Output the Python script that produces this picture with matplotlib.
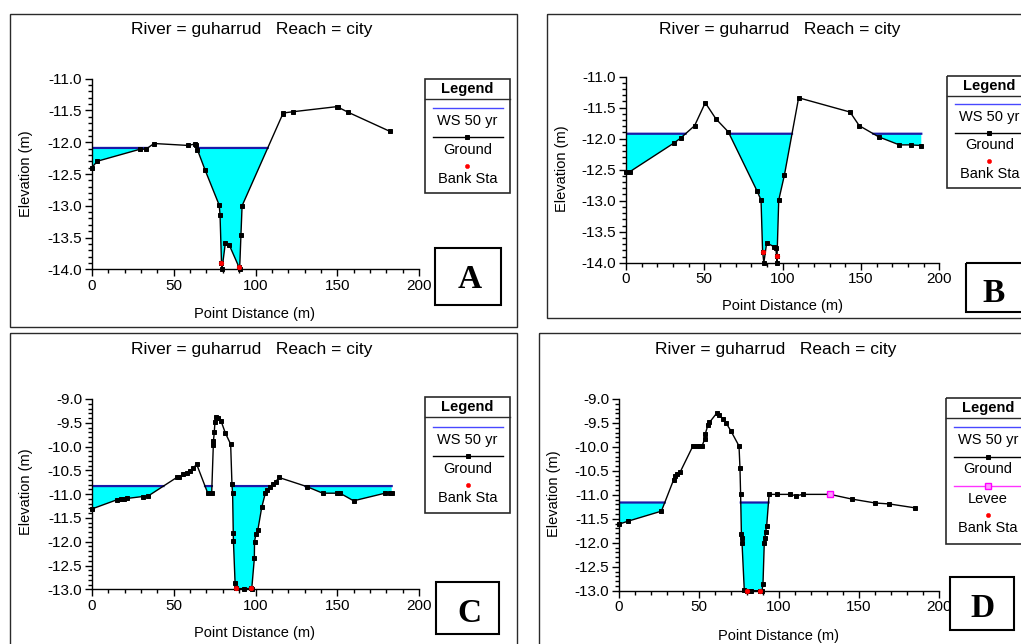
import numpy as np
import matplotlib
matplotlib.use("Agg")
import matplotlib.pyplot as plt
from matplotlib.patches import Rectangle
from matplotlib.ticker import MultipleLocator, FormatStrFormatter

plt.rcParams['font.family'] = ['Liberation Sans', 'DejaVu Sans']
plt.rcParams['axes.unicode_minus'] = False

# ---------------- data ----------------
title_text = "River = guharrud   Reach = city"
x_label = "Point Distance (m)"
y_label = "Elevation (m)"

# Panel A
a_sta = [0, 3.1, 29.4, 33.0, 37.9, 58.5, 62.8, 63.5, 64.5, 69.2, 77.8, 78.3, 79.2, 79.5,
         81.6, 84.0, 89.8, 90.3, 91.1, 91.8, 116.6, 117.0, 122.9, 149.7, 150.6, 156.8, 182.3]
a_elev = [-12.40, -12.30, -12.11, -12.11, -12.02, -12.05, -12.03, -12.04, -12.12, -12.44, -12.99,
          -13.14, -13.90, -14.00, -13.58, -13.62, -13.96, -14.00, -13.46, -13.00, -11.56, -11.54,
          -11.52, -11.44, -11.45, -11.53, -11.83]
a_ws = -12.09
a_bank_sta = [79.2, 89.8]
a_bank_elev = [-13.90, -13.96]

# Panel B
b_sta = [0, 2.6, 30.6, 34.9, 43.8, 50.6, 57.4, 65.3, 83.6, 86.2, 87.2, 88.0, 89.8, 94.3, 95.6,
         96.1, 96.3, 97.5, 101.1, 110.2, 143.0, 148.9, 161.3, 174.5, 181.7, 188.5]
b_elev = [-12.53, -12.53, -12.07, -11.99, -11.79, -11.42, -11.68, -11.89, -12.84, -12.99, -13.82,
          -14.00, -13.68, -13.74, -13.76, -13.89, -14.00, -12.99, -12.59, -11.34, -11.57, -11.79,
          -11.97, -12.10, -12.10, -12.11]
b_ws = -11.92
b_bank_sta = [87.2, 96.1]
b_bank_elev = [-13.82, -13.89]

# Panel C
c_sta = [0, 15.1, 17.5, 19.5, 21.5, 31.0, 34.3, 51.8, 53.5, 55.9, 58.0, 60.0, 62.0, 64.0, 70.8,
         73.2, 74.2, 74.3, 74.8, 75.2, 75.8, 76.9, 78.9, 81.5, 84.8, 85.6, 86.0, 86.4, 86.5, 87.5,
         88.1, 93.0, 97.0, 97.7, 99.3, 99.4, 100.3, 101.4, 103.8, 106.0, 107.2, 109.0, 110.9,
         112.3, 114.4, 131.3, 141.1, 149.7, 151.7, 160.0, 179.2, 182.3, 183.3]
c_elev = [-11.31, -11.12, -11.11, -11.10, -11.09, -11.05, -11.04, -10.65, -10.63, -10.58, -10.55,
          -10.52, -10.45, -10.37, -10.98, -10.98, -9.97, -9.88, -9.69, -9.49, -9.37, -9.40, -9.46,
          -9.71, -9.95, -10.79, -10.98, -11.82, -11.98, -12.86, -12.98, -12.99, -12.98, -12.99,
          -12.35, -12.00, -11.83, -11.76, -11.28, -10.98, -10.92, -10.85, -10.78, -10.74, -10.65,
          -10.84, -10.98, -10.98, -10.98, -11.14, -10.98, -10.97, -10.98]
c_ws = -10.83
c_bank_sta = [88.1, 97.0]
c_bank_elev = [-12.98, -12.98]

# Panel D
d_sta = [0.2, 5.6, 26.5, 34.2, 35.2, 36.3, 38.3, 46.2, 48.8, 50.9, 51.9, 53.5, 54.0, 55.6, 56.5,
         61.2, 62.7, 65.0, 67.1, 70.0, 75.0, 75.6, 76.0, 76.5, 76.6, 76.9, 78.3, 80.0, 82.4, 88.1,
         89.4, 90.0, 90.8, 91.2, 91.6, 92.3, 93.8, 98.8, 107.1, 110.8, 114.8, 131.9, 145.8, 160.2,
         169.0, 184.8]
d_elev = [-11.61, -11.55, -11.34, -10.68, -10.61, -10.56, -10.52, -9.98, -9.98, -9.98, -9.98,
          -9.84, -9.72, -9.54, -9.49, -9.29, -9.33, -9.42, -9.51, -9.67, -9.98, -10.43, -10.98,
          -11.82, -11.91, -12.01, -12.99, -13.00, -13.00, -13.00, -13.00, -12.85, -12.00, -11.90,
          -11.78, -11.65, -10.99, -10.99, -10.99, -11.02, -10.99, -10.99, -11.09, -11.17, -11.19,
          -11.27]
d_ws = -11.16
d_bank_sta = [80.0, 88.1]
d_bank_elev = [-13.00, -13.00]
d_levee_sta = 131.9
d_levee_elev = -10.99

legend_labels_abc = ["WS 50 yr", "Ground", "Bank Sta"]
legend_labels_d = ["WS 50 yr", "Ground", "Levee", "Bank Sta"]
panel_letters = ["A", "B", "C", "D"]

# ---------------- figure ----------------
W, H = 1021, 644
fig = plt.figure(figsize=(W / 100, H / 100), dpi=100)
ov = fig.add_axes([0, 0, 1, 1])
ov.set_xlim(0, W)
ov.set_ylim(H, 0)
ov.axis('off')

WATER = '#00ffff'
WS_COLOR = '#1a1aa8'
EDGE = '#2a2a2a'


def px_axes(x0, x1, ytop, ybot):
    ax = fig.add_axes([x0 / W, 1 - ybot / H, (x1 - x0) / W, (ybot - ytop) / H])
    ax.set_facecolor('none')
    return ax


def draw_panel(ax, sta, elev, ws, bank_sta, bank_elev, ylim, levee=None):
    sta = np.asarray(sta, float)
    elev = np.asarray(elev, float)
    xs = np.linspace(sta.min(), sta.max(), 20000)
    gs = np.interp(xs, sta, elev)
    wet = gs < ws
    if levee is not None:
        wet &= xs < levee[0]
    ax.fill_between(xs, gs, ws, where=wet, color=WATER, lw=0, zorder=1)
    ax.plot(xs, np.where(wet, ws, np.nan), color=WS_COLOR, lw=1.6, zorder=2)
    ax.plot(sta, elev, color='black', lw=1, marker='s', ms=2.3, mew=0.7, zorder=3,
            clip_on=False)
    ax.plot(bank_sta, bank_elev, 'o', color='red', ms=3.4, mew=0.4, ls='none', zorder=4,
            clip_on=False)
    if levee is not None:
        ax.plot([levee[0]], [levee[1]], 's', ms=3.8, mfc='#ff99ff', mec='#ff00ff',
                mew=1, zorder=5, clip_on=False)
    ax.set_xlim(0, 200)
    ax.set_ylim(*ylim)
    for s in ('top', 'right'):
        ax.spines[s].set_visible(False)
    for s in ('left', 'bottom'):
        ax.spines[s].set_linewidth(1)
    ax.xaxis.set_major_locator(MultipleLocator(50))
    ax.xaxis.set_minor_locator(MultipleLocator(10))
    ax.yaxis.set_major_locator(MultipleLocator(0.5))
    ax.yaxis.set_minor_locator(MultipleLocator(0.1))
    ax.yaxis.set_major_formatter(FormatStrFormatter('%.1f'))
    ax.tick_params(which='major', length=5, width=1, direction='out', labelsize=11, pad=2)
    ax.tick_params(which='minor', length=3, width=1, direction='out')


def draw_legend(left, top, height, labels, width=84.7, first=29.0, step=29.0):
    ov.add_patch(Rectangle((left, top), width, height, fill=False, ec=EDGE, lw=1.2))
    ov.plot([left, left + width], [top + 20, top + 20], color=EDGE, lw=1)
    cx = left + width / 2
    ov.text(cx, top + 10, 'Legend', ha='center', va='center', fontsize=10.5,
            fontweight='bold')
    for k, lab in enumerate(labels):
        ly = top + first + step * k
        if lab.startswith('WS'):
            ov.plot([left + 8, left + width - 7], [ly, ly], color='#4848ff', lw=1)
        elif lab == 'Ground':
            ov.plot([left + 8, left + width - 7], [ly, ly], color='black', lw=1)
            ov.plot([cx], [ly], 's', color='black', ms=2.3, mew=0.7)
        elif lab == 'Levee':
            ov.plot([left + 8, left + width - 7], [ly, ly], color='#ff33ff', lw=1)
            ov.plot([cx], [ly], 's', ms=3.8, mfc='#ff99ff', mec='#ff00ff', mew=1)
        else:
            ov.plot([cx], [ly], 'o', color='red', ms=3.0, mew=0.4)
        ov.text(cx, ly + 12.8, lab, ha='center', va='center', fontsize=10.5)


# panel frames
ov.add_patch(Rectangle((10.3, 14), 506.7, 312.5, fill=False, ec=EDGE, lw=1))
ov.add_patch(Rectangle((547.3, 14), 500, 303.7, fill=False, ec=EDGE, lw=1))
ov.add_patch(Rectangle((10.3, 333.3), 506.7, 330, fill=False, ec=EDGE, lw=1))
ov.add_patch(Rectangle((539, 333.3), 500, 330, fill=False, ec=EDGE, lw=1))

# axes
axA = px_axes(92, 419, 78.7, 269.3)
draw_panel(axA, a_sta, a_elev, a_ws, a_bank_sta, a_bank_elev, (-14, -11))
axB = px_axes(626, 939.3, 76.7, 262.7)
draw_panel(axB, b_sta, b_elev, b_ws, b_bank_sta, b_bank_elev, (-14, -11))
axC = px_axes(92, 419, 399, 589.3)
draw_panel(axC, c_sta, c_elev, c_ws, c_bank_sta, c_bank_elev, (-13, -9))
axD = px_axes(619, 939, 399, 590.7)
draw_panel(axD, d_sta, d_elev, d_ws, d_bank_sta, d_bank_elev, (-13, -9),
           levee=(d_levee_sta, d_levee_elev))

# titles and axis labels
for (tx, ty) in [(251.8, 29.3), (779.7, 29.3), (251.8, 349.3), (776, 349.3)]:
    ov.text(tx, ty, title_text, ha='center', va='center', fontsize=12.5)
for (tx, ty) in [(254.7, 314), (782.5, 306), (254.7, 632.7), (778.7, 635.7)]:
    ov.text(tx, ty, x_label, ha='center', va='center', fontsize=10.5)
for (tx, ty) in [(26, 173.3), (562.3, 169), (26, 492), (554.3, 493.3)]:
    ov.text(tx, ty, y_label, ha='center', va='center', fontsize=10.5, rotation=90)

# legends
draw_legend(425, 78.7, 114, legend_labels_abc)
draw_legend(947, 76, 112.3, legend_labels_abc, first=28.3, step=28.3)
draw_legend(425.3, 396.7, 116, legend_labels_abc, first=30, step=29)
draw_legend(945.5, 398, 146, legend_labels_d, first=29.3, step=29.2)

# letter boxes
boxes = [(434.5, 248.3, 66.2, 56.7), (965.7, 262.7, 66, 49),
         (436, 581.7, 63.3, 52.3), (950, 577.3, 64, 52.7)]
letter_pos = [(469.5, 288.3), (994, 301.7), (469, 621.7), (982.5, 617.3)]
for (bx, by, bw, bh), (lx, ly), let in zip(boxes, letter_pos, panel_letters):
    ov.add_patch(Rectangle((bx, by), bw, bh, fill=False, ec='black', lw=1.5))
    ov.text(lx, ly, let, ha='center', va='baseline', fontsize=24,
            fontfamily='Liberation Serif', fontweight='bold')

fig.savefig('out.png', dpi=100)
